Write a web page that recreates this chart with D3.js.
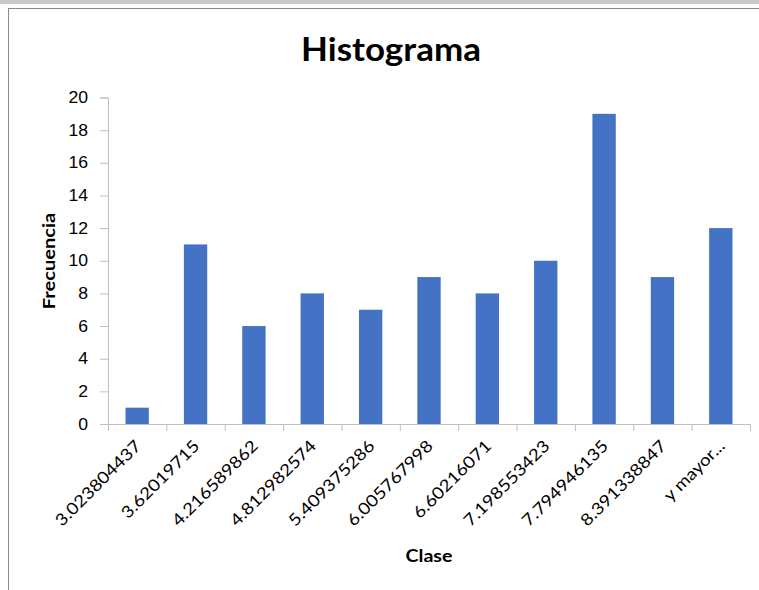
<!DOCTYPE html>
<html>
<head>
<meta charset="utf-8">
<script src="https://cdn.jsdelivr.net/npm/d3@7"></script>
<style>
  body { margin: 0; background: #fff; }
  svg { display: block; font-family: Lato, "Open Sans", sans-serif; }
</style>
</head>
<body>
<div id="chart"></div>
<script>
const categories = ['3.023804437', '3.62019715', '4.216589862', '4.812982574', '5.409375286',
    '6.005767998', '6.60216071', '7.198553423', '7.794946135', '8.391338847', 'y mayor...'];
const frecuencia = [1, 11, 6, 8, 7, 9, 8, 10, 19, 9, 12];
const yTicks = [0, 2, 4, 6, 8, 10, 12, 14, 16, 18, 20];

const width = 759, height = 590;
const svg = d3.select('#chart').append('svg')
    .attr('width', width)
    .attr('height', height);

// marco de la ventana
svg.append('rect').attr('x', 0).attr('y', 0).attr('width', width).attr('height', 4).attr('fill', '#c9c9c9');
svg.append('line').attr('x1', 8).attr('x2', width).attr('y1', 8.5).attr('y2', 8.5)
    .attr('stroke', '#8a8a8a').attr('stroke-width', 1);
svg.append('line').attr('x1', 8.5).attr('x2', 8.5).attr('y1', 8).attr('y2', height)
    .attr('stroke', '#8a8a8a').attr('stroke-width', 1);

const x = d3.scaleBand()
    .domain(categories)
    .range([108, 750])
    .paddingInner(0.6)
    .paddingOuter(0.3);

const y = d3.scaleLinear()
    .domain([0, 20])
    .range([424, 97.5]);

// barras
svg.selectAll('.bar')
    .data(frecuencia)
    .join('rect')
    .attr('class', 'bar')
    .attr('x', (d, i) => x(categories[i]))
    .attr('width', x.bandwidth())
    .attr('y', d => y(d))
    .attr('height', d => y(0) - y(d))
    .attr('fill', '#4472c4');

// eje y
const yAxis = svg.append('g')
    .attr('transform', 'translate(108,0)')
    .call(d3.axisLeft(y).tickValues(yTicks).tickSize(8).tickPadding(12));
yAxis.select('.domain').attr('stroke', '#bfbfbf');
yAxis.selectAll('.tick line').attr('stroke', '#bfbfbf');
yAxis.selectAll('.tick text')
    .attr('fill', '#000')
    .style('font-size', '16px')
    .attr('x', null)
    .attr('transform', 'translate(-20,0) scale(1.1,1)');

// eje x
const step = x.step();
const edges = d3.range(categories.length + 1).map(i => 108 + i * step);
svg.append('line')
    .attr('x1', 108).attr('x2', 750)
    .attr('y1', y(0) + 0.5).attr('y2', y(0) + 0.5)
    .attr('stroke', '#bfbfbf');
svg.selectAll('.xtick')
    .data(edges)
    .join('line')
    .attr('class', 'xtick')
    .attr('x1', d => d + 0.5).attr('x2', d => d + 0.5)
    .attr('y1', y(0)).attr('y2', y(0) + 7)
    .attr('stroke', '#bfbfbf');

svg.selectAll('.xlabel')
    .data(categories)
    .join('text')
    .attr('class', 'xlabel')
    .attr('text-anchor', 'end')
    .attr('transform', d => `translate(${x(d) + x.bandwidth() / 2 + 5},${y(0) + 23}) rotate(-45) scale(1.14,1)`)
    .style('font-size', '16.5px')
    .attr('fill', '#000')
    .text(d => d);

// títulos
svg.append('text')
    .attr('transform', 'translate(391,61) scale(1.06,1)')
    .attr('text-anchor', 'middle')
    .style('font-size', '33px')
    .style('font-weight', 'bold')
    .text('Histograma');

svg.append('text')
    .attr('transform', 'translate(429,562) scale(1.19,1)')
    .attr('text-anchor', 'middle')
    .style('font-size', '16.5px')
    .style('font-weight', 'bold')
    .text('Clase');

svg.append('text')
    .attr('transform', 'translate(55,261) rotate(-90) scale(1.22,1)')
    .attr('text-anchor', 'middle')
    .style('font-size', '16.5px')
    .style('font-weight', 'bold')
    .text('Frecuencia');
</script>
</body>
</html>
